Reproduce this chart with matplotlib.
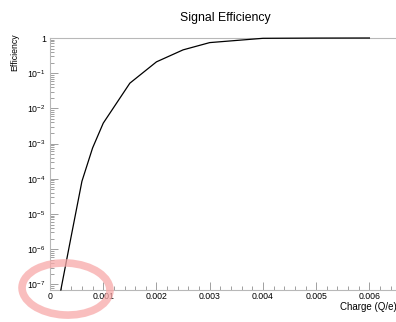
import numpy as np
import matplotlib
matplotlib.use('Agg')
import matplotlib.pyplot as plt
from matplotlib.ticker import FuncFormatter, MultipleLocator, LogLocator
from matplotlib.patches import Ellipse

plt.rcParams['font.family'] = ['Liberation Sans', 'DejaVu Sans']
plt.rcParams['mathtext.fontset'] = 'custom'
plt.rcParams['mathtext.rm'] = 'Liberation Sans'
plt.rcParams['mathtext.it'] = 'Liberation Sans'

# signal efficiency vs charge threshold
charge = [0.0002, 0.0004, 0.0006, 0.0008, 0.001, 0.0015, 0.002, 0.0025,
          0.003, 0.004, 0.005, 0.006]
efficiency = [6.5e-8, 2.4e-6, 8.5e-5, 7.5e-4, 3.8e-3, 0.052, 0.21, 0.46,
              0.74, 0.98, 0.995, 1.0]

W, H = 396, 322
fig = plt.figure(figsize=(W / 100, H / 100), dpi=100)
ax = fig.add_axes([50 / W, 1 - 290 / H, (W - 50) / W, (290 - 38) / H])

ax.set_yscale('log')
ax.set_xlim(0, 0.0065)
ax.set_ylim(6.9e-8, 1.0)

grey = '#a0a0a0'
for s in ['left', 'bottom', 'top']:
    ax.spines[s].set_color('#b8b8b8')
    ax.spines[s].set_linewidth(0.8)
ax.spines['right'].set_visible(False)

# draw the curve above the frame so the flat part at 1 stays visible
line, = ax.plot(charge, efficiency, color='black', lw=0.9, zorder=5)
line.set_clip_on(False)
# cut the first segment where it crosses the lower frame (log space)
ch = np.array(charge)
eff = np.array(efficiency)
ybot = ax.get_ylim()[0]
l0, l1 = np.log10(eff[0]), np.log10(eff[1])
xb = ch[0] + (np.log10(ybot) - l0) / (l1 - l0) * (ch[1] - ch[0])
line.set_data(np.r_[xb, ch[1:]], np.r_[ybot, eff[1:]])

ax.xaxis.set_major_locator(MultipleLocator(0.001))
ax.xaxis.set_minor_locator(MultipleLocator(0.0002))
ax.xaxis.set_major_formatter(FuncFormatter(
    lambda v, p: '0' if abs(v) < 1e-12 else f'{v:.3f}'))
ax.yaxis.set_major_locator(LogLocator(base=10, numticks=20))
ax.yaxis.set_minor_locator(LogLocator(base=10, subs=np.arange(2, 10), numticks=20))
ax.yaxis.set_major_formatter(FuncFormatter(
    lambda v, p: '1' if abs(np.log10(v)) < 1e-6 else r'$10^{%d}$' % round(np.log10(v))))

ax.tick_params(which='both', direction='in', color=grey, labelsize=6.3,
               top=False, right=False, width=0.7)
ax.tick_params(which='major', length=5.5)
ax.tick_params(which='minor', length=2.8)
ax.tick_params(axis='x', pad=1.5)
ax.tick_params(axis='y', pad=3)

fig.text(225 / W, 1 - 18 / H, 'Signal Efficiency', ha='center', va='center',
         fontsize=8.8)
fig.text(15 / W, 1 - 33 / H, 'Efficiency', rotation=90, ha='center', va='top',
         fontsize=6.3)
fig.text(340 / W, 1 - 307 / H, 'Charge (Q/e)', ha='left', va='center',
         fontsize=7.0)

# pink hand-drawn circle mark
ring = Ellipse((66 / W, 1 - 289 / H), 88 / W, 52 / H, angle=-4,
               transform=fig.transFigure, fill=False, edgecolor='#f8a9a9',
               lw=5.5, alpha=0.75, zorder=10)
fig.patches.append(ring)

fig.savefig('out.png', dpi=100)
